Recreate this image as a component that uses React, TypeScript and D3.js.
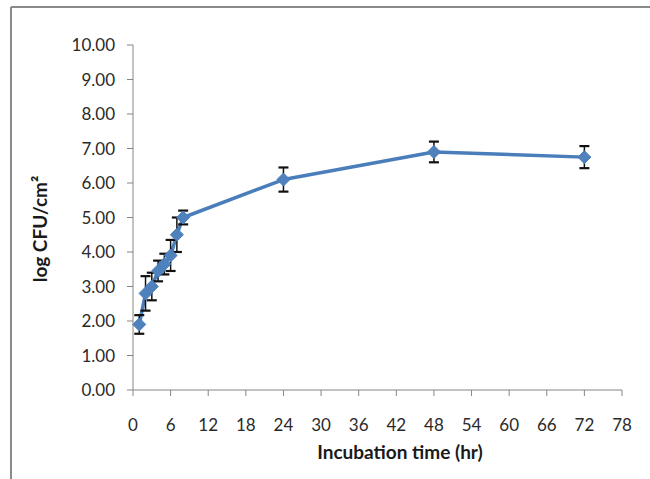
import React from "react";
import * as d3 from "d3";

const hours = [1, 2, 3, 4, 5, 6, 7, 8, 24, 48, 72];
const logCfu = [1.9, 2.8, 3.0, 3.45, 3.65, 3.9, 4.5, 5.0, 6.1, 6.9, 6.75];
const errors = [0.27, 0.5, 0.4, 0.3, 0.3, 0.45, 0.5, 0.2, 0.35, 0.3, 0.32];
const xTicks = [0, 6, 12, 18, 24, 30, 36, 42, 48, 54, 60, 66, 72, 78];
const yTicks = [0, 1, 2, 3, 4, 5, 6, 7, 8, 9, 10];

const W = 650;
const H = 479;
const FONT = "Lato, 'Open Sans', sans-serif";

export default function App() {
  const x = d3.scaleLinear().domain([0, 78]).range([133, 622]);
  const y = d3.scaleLinear().domain([0, 10]).range([390, 45]);
  const line = d3
    .line<number>()
    .x((_, i) => x(hours[i]))
    .y((d) => y(d));
  const blue = "#4A7EBB";
  const marker = "#4F81BD";
  const s = 6.5;
  return (
    <svg
      width={W}
      height={H}
      style={{ position: "absolute", left: 0, top: 0, background: "#fff" }}
    >
      <rect x={0} y={0} width={W} height={H} fill="#fff" />
      {/* frame */}
      <line x1={11} y1={7} x2={W} y2={7} stroke="#8a8a8a" strokeWidth={2} />
      <line x1={11} y1={7} x2={11} y2={H} stroke="#8a8a8a" strokeWidth={2} />
      {/* y axis */}
      <line x1={133} y1={y(10)} x2={133} y2={y(0)} stroke="#868686" strokeWidth={1} />
      {yTicks.map((t) => (
        <g key={"y" + t}>
          <line x1={127} x2={133} y1={y(t)} y2={y(t)} stroke="#868686" />
          <text
            x={115}
            y={y(t)}
            dy="0.36em"
            textAnchor="end"
            fontFamily={FONT}
            fontSize={17}
            fill="#2a2a2a"
          >
            {t.toFixed(2)}
          </text>
        </g>
      ))}
      {/* x axis */}
      <line x1={x(0)} y1={390} x2={x(78)} y2={390} stroke="#868686" strokeWidth={1} />
      {xTicks.map((t) => (
        <g key={"x" + t}>
          <line x1={x(t)} x2={x(t)} y1={390} y2={396} stroke="#868686" />
          <text
            x={x(t)}
            y={425}
            dy="0.36em"
            textAnchor="middle"
            fontFamily={FONT}
            fontSize={17}
            fill="#2a2a2a"
          >
            {t}
          </text>
        </g>
      ))}
      <text
        x={400}
        y={452}
        dy="0.36em"
        textAnchor="middle"
        fontFamily={FONT}
        fontSize={19}
        fontWeight="bold"
        fill="#1a1a1a"
      >
        Incubation time (hr)
      </text>
      <text
        transform={`translate(40,229) rotate(-90)`}
        dy="0.36em"
        textAnchor="middle"
        fontFamily={FONT}
        fontSize={19}
        fontWeight="bold"
        fill="#1a1a1a"
      >
        log CFU/cm²
      </text>
      {/* line */}
      <path d={line(logCfu) || ""} fill="none" stroke={blue} strokeWidth={3.5} strokeLinejoin="round" />
      {/* error bars */}
      {logCfu.map((v, i) => {
        const cx = x(hours[i]);
        const top = y(v + errors[i]);
        const bot = y(v - errors[i]);
        return (
          <g key={"e" + i} stroke="#111" strokeWidth={1.5}>
            <line x1={cx} x2={cx} y1={top} y2={bot} />
            <line x1={cx - 5} x2={cx + 5} y1={top} y2={top} strokeWidth={2.2} />
            <line x1={cx - 5} x2={cx + 5} y1={bot} y2={bot} strokeWidth={2.2} />
          </g>
        );
      })}
      {/* markers */}
      {logCfu.map((v, i) => {
        const cx = x(hours[i]);
        const cy = y(v);
        return (
          <path
            key={"m" + i}
            d={`M${cx},${cy - s}L${cx + s},${cy}L${cx},${cy + s}L${cx - s},${cy}Z`}
            fill={marker}
            stroke={blue}
            strokeWidth={1}
          />
        );
      })}
    </svg>
  );
}
